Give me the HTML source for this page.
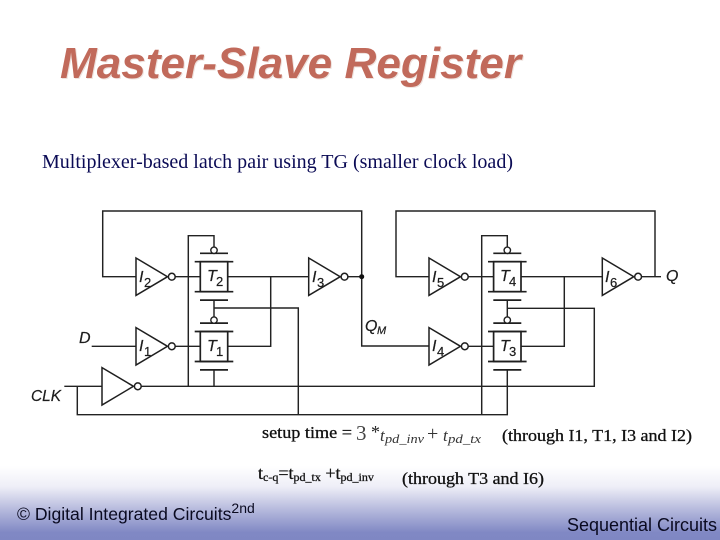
<!DOCTYPE html>
<html><head><meta charset="utf-8">
<style>
html,body{margin:0;padding:0;width:720px;height:540px;overflow:hidden;background:#fff}
svg{display:block;position:absolute;left:0;top:0}
.s{font-family:"Liberation Sans",sans-serif}
.r{font-family:"Liberation Serif",serif}
.l{font-family:"Liberation Sans",sans-serif;font-style:italic;fill:#1c1c1c;stroke:#1c1c1c;stroke-width:.2}
.b{stroke:#111;stroke-width:.3}
</style></head><body>
<svg width="720" height="540" viewBox="0 0 720 540" xmlns="http://www.w3.org/2000/svg">
<defs>
<linearGradient id="bg" x1="0" y1="0" x2="0" y2="1">
<stop offset="0" stop-color="#ffffff"/>
<stop offset="0.28" stop-color="#eeeef7"/>
<stop offset="0.6" stop-color="#b4b8dc"/>
<stop offset="0.9" stop-color="#8088c4"/>
<stop offset="1" stop-color="#7f87c3"/>
</linearGradient>
<g id="tg" fill="none" stroke="#1f1f1f" stroke-width="1.4">
<rect x="-13.7" y="-15" width="27.4" height="30" stroke-width="1.7"/>
<path d="M-19.3-15H19.3M-19.3 15H19.3" stroke-width="1.7"/>
<path d="M-14-23.4H14M-14 23.4H14" stroke-width="1.7"/>
<circle cx="0" cy="-26.4" r="3.2" fill="#fff"/>
</g>
<g id="inv" fill="none" stroke="#1f1f1f" stroke-width="1.5">
<path d="M0-18.7L31.5 0L0 18.7Z" fill="#fff"/>
<circle cx="35.8" cy="0" r="3.4" fill="#fff"/>
</g>
</defs>
<rect x="0" y="466" width="720" height="74" fill="url(#bg)"/>

<g fill="none" stroke="#222" stroke-width="1.45">
<!-- master -->
<path d="M136 276.7H102.7V211H361.7V346H429"/>
<path d="M175 276.7H200M228 276.7H308.7M348 276.7H361.7"/>
<path d="M91.7 346.3H136M175 346.3H200M228 346.3H270.7V276.7"/>
<path d="M214 247V235.7H188.3V386.3"/>
<path d="M214 300V317M214 308H298.3V414.7"/>
<path d="M214 369.7V386.3"/>
<path d="M64.3 386.3H102M141 386.3H594.3V308.3H507.3"/>
<path d="M77.3 386.3V414.7H507.3V369.7"/>
<!-- slave -->
<path d="M429 276.7H396V211H655V276.7"/>
<path d="M468 276.7H494M521 276.7H602.3M642 276.7H661"/>
<path d="M468 346.3H494M521 346.3H564.3V276.7"/>
<path d="M507.3 247V235.7H481.7V414.7"/>
<path d="M507.3 300V317"/>
</g>
<circle cx="361.7" cy="276.7" r="2.5" fill="#111"/>

<use href="#inv" x="136" y="276.7"/>
<use href="#inv" x="136" y="346.3"/>
<use href="#inv" x="308.7" y="276.7"/>
<use href="#inv" x="429" y="276.7"/>
<use href="#inv" x="429" y="346.3"/>
<use href="#inv" x="602.3" y="276.7"/>
<use href="#inv" x="102" y="386.3"/>
<use href="#tg" x="214" y="276.7"/>
<use href="#tg" x="214" y="346.5"/>
<use href="#tg" x="507.3" y="276.7"/>
<use href="#tg" x="507.3" y="346.5"/>

<!-- diagram labels -->
<g class="l" font-size="16">
<text x="139" y="282">I</text><text x="144" y="287" font-size="13" font-style="normal">2</text>
<text x="139" y="351">I</text><text x="144" y="356" font-size="13" font-style="normal">1</text>
<text x="312" y="282">I</text><text x="317" y="287" font-size="13" font-style="normal">3</text>
<text x="432" y="282">I</text><text x="437" y="287" font-size="13" font-style="normal">5</text>
<text x="432" y="351">I</text><text x="437" y="356" font-size="13" font-style="normal">4</text>
<text x="605" y="282">I</text><text x="610" y="287" font-size="13" font-style="normal">6</text>
<text x="207" y="281">T</text><text x="216" y="286" font-size="13" font-style="normal">2</text>
<text x="207" y="351">T</text><text x="216" y="356" font-size="13" font-style="normal">1</text>
<text x="500" y="281">T</text><text x="509" y="286" font-size="13" font-style="normal">4</text>
<text x="500" y="351">T</text><text x="509" y="356" font-size="13" font-style="normal">3</text>
<text x="79" y="343" font-size="16">D</text>
<text x="31" y="401" font-size="16" textLength="30" lengthAdjust="spacingAndGlyphs">CLK</text>
<text x="365" y="331" font-size="16">Q</text><text x="377" y="334" font-size="11">M</text>
<text x="666" y="281" font-size="16">Q</text>
</g>

<!-- title -->
<text class="s" x="60" y="78" font-size="44" font-weight="bold" font-style="italic" fill="#eee2de" dx="1" dy="1" textLength="461" lengthAdjust="spacingAndGlyphs">Master-Slave Register</text>
<text class="s" x="60" y="78" font-size="44" font-weight="bold" font-style="italic" fill="#c16a5b" textLength="461" lengthAdjust="spacingAndGlyphs">Master-Slave Register</text>

<!-- text -->
<text class="r" x="42" y="168" font-size="20" fill="#0b0b55" textLength="471" lengthAdjust="spacingAndGlyphs">Multiplexer-based latch pair using TG (smaller clock load)</text>
<text class="r b" x="262" y="438" font-size="17" fill="#111" textLength="90" lengthAdjust="spacingAndGlyphs">setup time =</text>
<text class="r" x="356" y="440" font-size="21" fill="#444">3</text>
<text class="r" x="371" y="438" font-size="18" fill="#222">*</text>
<text class="r" x="380" y="441" font-size="17" font-style="italic" fill="#333">t</text>
<text class="r" x="385" y="443" font-size="13" font-style="italic" fill="#333" textLength="39" lengthAdjust="spacingAndGlyphs">pd_inv</text>
<text class="r" x="427" y="440" font-size="20" fill="#333">+</text>
<text class="r" x="443" y="441" font-size="17" font-style="italic" fill="#333">t</text>
<text class="r" x="448" y="443" font-size="13" font-style="italic" fill="#333" textLength="33" lengthAdjust="spacingAndGlyphs">pd_tx</text>
<text class="r b" x="502" y="441" font-size="17" fill="#111" textLength="190" lengthAdjust="spacingAndGlyphs">(through I1, T1, I3 and I2)</text>

<text class="r b" x="258" y="479" font-size="18" fill="#111">t<tspan font-size="12" dy="2">c-q</tspan><tspan dy="-2">=t</tspan><tspan font-size="12" dy="2">pd_tx</tspan><tspan dy="-2"> +t</tspan><tspan font-size="12" dy="2">pd_inv</tspan></text>
<text class="r b" x="402" y="484" font-size="17" fill="#111" textLength="142" lengthAdjust="spacingAndGlyphs">(through T3 and I6)</text>

<!-- footer -->
<text class="s" x="17" y="520" font-size="17.6" fill="#0a0a20">© Digital Integrated Circuits<tspan font-size="14" dy="-7">2nd</tspan></text>
<text class="s" x="567" y="531" font-size="18" fill="#0a0a20" textLength="150" lengthAdjust="spacingAndGlyphs">Sequential Circuits</text>
</svg>
</body></html>
